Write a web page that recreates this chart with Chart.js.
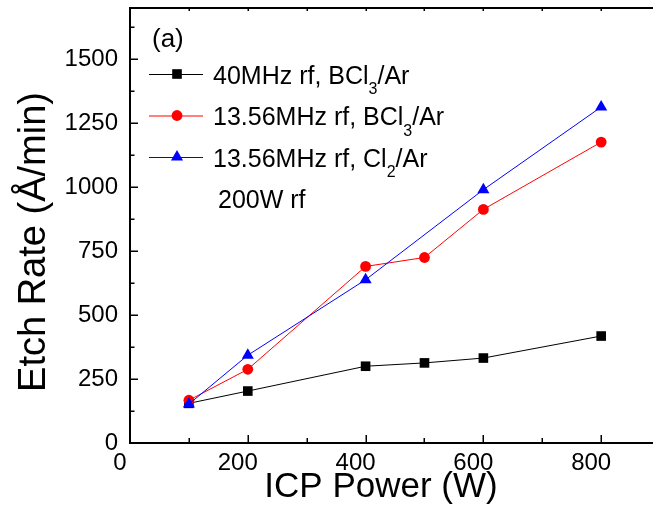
<!DOCTYPE html>
<html><head><meta charset="utf-8">
<script src="https://cdn.jsdelivr.net/npm/chart.js@4/dist/chart.umd.min.js"></script>
<style>html,body{margin:0;padding:0;background:#fff;overflow:hidden}#wrap{width:653px;height:524px;position:relative}</style>
</head><body><div id="wrap"><canvas id="c" width="653" height="524"></canvas></div>
<script>
// ---- data ----
const powerAll = [100, 200, 400, 500, 600, 800];
const powerCl2 = [100, 200, 400, 600, 800];
const rate40BCl3 = [155, 203, 300, 313, 332, 418];
const rate1356BCl3 = [167, 288, 690, 725, 913, 1176];
const rate1356Cl2 = [152, 343, 638, 990, 1313];
const seriesLabels = ['40MHz rf, BCl₃/Ar', '13.56MHz rf, BCl₃/Ar', '13.56MHz rf, Cl₂/Ar'];
const panelLabel = '(a)';
const noteLabel = '200W rf';
const xTitle = 'ICP Power (W)';
const yTitle = 'Etch Rate (Å/min)';
const xMajorTicks = [0, 200, 400, 600, 800];
const xMinorTicks = [100, 300, 500, 700];
const yMajorTicks = [0, 250, 500, 750, 1000, 1250, 1500];
const yMinorTicks = [125, 375, 625, 875, 1125, 1375, 1625];

const FONT = '"Liberation Sans", Arial, Helvetica, sans-serif';
const pts = (xs, ys) => xs.map((x, i) => ({x: x, y: ys[i]}));

const datasets = [
  {label: seriesLabels[0], data: pts(powerAll, rate40BCl3), borderColor: '#000000', backgroundColor: '#000000', pointStyle: 'rect', pointRadius: 6.8, order: 2},
  {label: seriesLabels[1], data: pts(powerAll, rate1356BCl3), borderColor: '#ff0000', backgroundColor: '#ff0000', pointStyle: 'circle', pointRadius: 5.4, order: 1},
  {label: seriesLabels[2], data: pts(powerCl2, rate1356Cl2), borderColor: '#0000ff', backgroundColor: '#0000ff', pointStyle: 'triangle', pointRadius: 7, order: 0}
].map(d => Object.assign(d, {borderWidth: 1, pointBorderWidth: 0, fill: false, tension: 0, showLine: true, pointHoverRadius: d.pointRadius}));

function drawMarker(ctx, style, r, x, y, color) {
  ctx.save();
  ctx.fillStyle = color;
  ctx.beginPath();
  if (style === 'rect') {
    const s = Math.SQRT1_2 * r;
    ctx.rect(x - s, y - s, 2 * s, 2 * s);
  } else if (style === 'circle') {
    ctx.arc(x, y, r, 0, Math.PI * 2);
  } else {
    ctx.moveTo(x, y - r);
    ctx.lineTo(x + 0.866 * r, y + 0.5 * r);
    ctx.lineTo(x - 0.866 * r, y + 0.5 * r);
    ctx.closePath();
  }
  ctx.fill();
  ctx.restore();
}

function drawSubText(ctx, text, x, y, size) {
  const subMap = {'₂': '2', '₃': '3'};
  let cx = x;
  let buf = '';
  const flush = () => {
    if (!buf) return;
    ctx.font = size + 'px ' + FONT;
    ctx.fillText(buf, cx, y);
    cx += ctx.measureText(buf).width;
    buf = '';
  };
  for (const ch of text) {
    if (subMap[ch]) {
      flush();
      const ss = Math.round(size * 0.62);
      ctx.font = ss + 'px ' + FONT;
      ctx.fillText(subMap[ch], cx, y + size * 0.42);
      cx += ctx.measureText(subMap[ch]).width;
    } else buf += ch;
  }
  flush();
}

const PLOT_RIGHT = 653;

const framePlugin = {
  id: 'frame',
  afterLayout(chart) {
    const ca = chart.chartArea;
    const x = chart.scales.x;
    if (ca.right !== PLOT_RIGHT) {
      ca.right = PLOT_RIGHT;
      ca.width = ca.right - ca.left;
      x.right = PLOT_RIGHT;
      x.width = PLOT_RIGHT - x.left;
      x.configure();
      x._labelItems = null;
    }
  },
  beforeDatasetsDraw(chart) {
    const {ctx, chartArea: a, scales: {x, y}} = chart;
    ctx.save();
    ctx.strokeStyle = '#000';
    ctx.lineWidth = 2;
    ctx.beginPath();
    ctx.moveTo(a.right + 2, a.top);
    ctx.lineTo(a.left, a.top);
    ctx.lineTo(a.left, a.bottom);
    ctx.lineTo(a.right + 2, a.bottom);
    ctx.stroke();
    ctx.lineWidth = 1.5;
    ctx.beginPath();
    const tick = (v, len, top) => {
      const px = Math.round(x.getPixelForValue(v)) + 0.25;
      ctx.moveTo(px, a.bottom);
      ctx.lineTo(px, a.bottom - len);
      ctx.moveTo(px, a.top);
      ctx.lineTo(px, a.top + top);
    };
    xMajorTicks.forEach(v => tick(v, 8, 3));
    xMinorTicks.forEach(v => tick(v, 5, 3));
    const ytick = (v, len) => {
      const py = Math.round(y.getPixelForValue(v)) + 0.25;
      ctx.moveTo(a.left, py);
      ctx.lineTo(a.left + len, py);
    };
    yMajorTicks.forEach(v => ytick(v, 8));
    yMinorTicks.forEach(v => ytick(v, 4.5));
    ctx.stroke();
    ctx.restore();
  },
  afterDraw(chart) {
    const {ctx} = chart;
    ctx.save();
    ctx.fillStyle = '#000';
    ctx.textBaseline = 'alphabetic';
    ctx.textAlign = 'left';
    ctx.font = '26px ' + FONT;
    ctx.fillText(panelLabel, 152, 47);
    const rowY = [74, 115.5, 157];
    chart.data.datasets.forEach((d, i) => {
      const yy = rowY[i];
      ctx.strokeStyle = d.borderColor;
      ctx.lineWidth = 1;
      ctx.beginPath();
      ctx.moveTo(149, yy + 0.5);
      ctx.lineTo(203, yy + 0.5);
      ctx.stroke();
      drawMarker(ctx, d.pointStyle, d.pointRadius, 177, yy, d.backgroundColor);
      ctx.fillStyle = '#000';
      drawSubText(ctx, d.label, 213, yy + 9.5, 25);
    });
    ctx.font = '25px ' + FONT;
    ctx.fillText(noteLabel, 218, 207.5);
    // axis titles
    ctx.textAlign = 'center';
    ctx.font = '35px ' + FONT;
    ctx.fillText(xTitle, 381, 497);
    ctx.translate(44.5, 242);
    ctx.rotate(-Math.PI / 2);
    ctx.font = '38px ' + FONT;
    ctx.fillText(yTitle, 0, 0);
    ctx.restore();
  }
};

new Chart(document.getElementById('c'), {
  type: 'line',
  data: {datasets: datasets},
  plugins: [framePlugin],
  options: {
    responsive: false,
    animation: false,
    devicePixelRatio: 1,
    layout: {padding: {top: 8, left: 0, right: 0, bottom: 0}},
    plugins: {legend: {display: false}, tooltip: {enabled: false}},
    scales: {
      x: {
        type: 'linear', min: 0, max: 888,
        afterFit(s) { s.height = 81; s.paddingLeft = 0; s.paddingRight = 0; },
        afterBuildTicks(s) { s.ticks = xMajorTicks.map(v => ({value: v})); },
        grid: {display: false, drawTicks: false},
        border: {display: false},
        ticks: {color: '#000', font: {family: FONT, size: 24}, padding: 6, labelOffset: -10, maxRotation: 0, autoSkip: false, callback: v => String(v)},
        title: {display: false, text: xTitle}
      },
      y: {
        type: 'linear', min: 0, max: 1700,
        afterFit(s) { s.width = 130; s.paddingTop = 0; s.paddingBottom = 0; },
        afterBuildTicks(s) { s.ticks = yMajorTicks.map(v => ({value: v})); },
        grid: {display: false, drawTicks: false},
        border: {display: false},
        ticks: {color: '#000', font: {family: FONT, size: 24}, padding: 12, autoSkip: false, callback: v => String(v)},
        title: {display: false, text: yTitle}
      }
    }
  }
});
</script></body></html>
